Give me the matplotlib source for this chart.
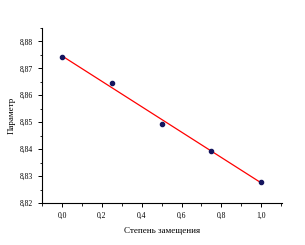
import numpy as np
import matplotlib.pyplot as plt
from matplotlib.ticker import MultipleLocator, FuncFormatter

# substitution degree vs parameter
x_vals = [0.0, 0.25, 0.5, 0.75, 1.0]
y_vals = [8.8741, 8.8647, 8.8493, 8.8393, 8.8279]

plt.rcParams['font.family'] = ['Liberation Serif', 'DejaVu Serif']

fig = plt.figure(figsize=(3.05, 2.45), dpi=100)
ax = fig.add_axes([0.138, 0.171, 0.787, 0.715])

# linear fit line
k, b = np.polyfit(x_vals, y_vals, 1)
fit_x = np.array([x_vals[0], x_vals[-1]])
ax.plot(fit_x, k * fit_x + b, color='red', linewidth=0.9, zorder=2)
ax.plot(x_vals, y_vals, 'o', color='#15155e', markersize=3, zorder=3)

ax.set_xlim(-0.1, 1.105)
ax.set_ylim(8.82, 8.885)

ax.spines['top'].set_visible(False)
ax.spines['right'].set_visible(False)
for s in ['left', 'bottom']:
    ax.spines[s].set_linewidth(0.8)

comma = FuncFormatter(lambda v, p: f"{v:.1f}".replace('.', ','))
comma2 = FuncFormatter(lambda v, p: f"{v:.2f}".replace('.', ','))
ax.xaxis.set_major_locator(MultipleLocator(0.2))
ax.xaxis.set_minor_locator(MultipleLocator(0.1))
ax.yaxis.set_major_locator(MultipleLocator(0.01))
ax.yaxis.set_minor_locator(MultipleLocator(0.005))
ax.xaxis.set_major_formatter(comma)
ax.yaxis.set_major_formatter(comma2)
ax.tick_params(which='major', length=3, width=0.7, labelsize=5.5, pad=3.5)
ax.tick_params(which='minor', length=1.8, width=0.6)

ax.set_xlabel("Степень замещения", fontsize=6.5, labelpad=5)
ax.set_ylabel("Параметр", fontsize=6.5, labelpad=3)

fig.savefig("out.png", dpi=100)
